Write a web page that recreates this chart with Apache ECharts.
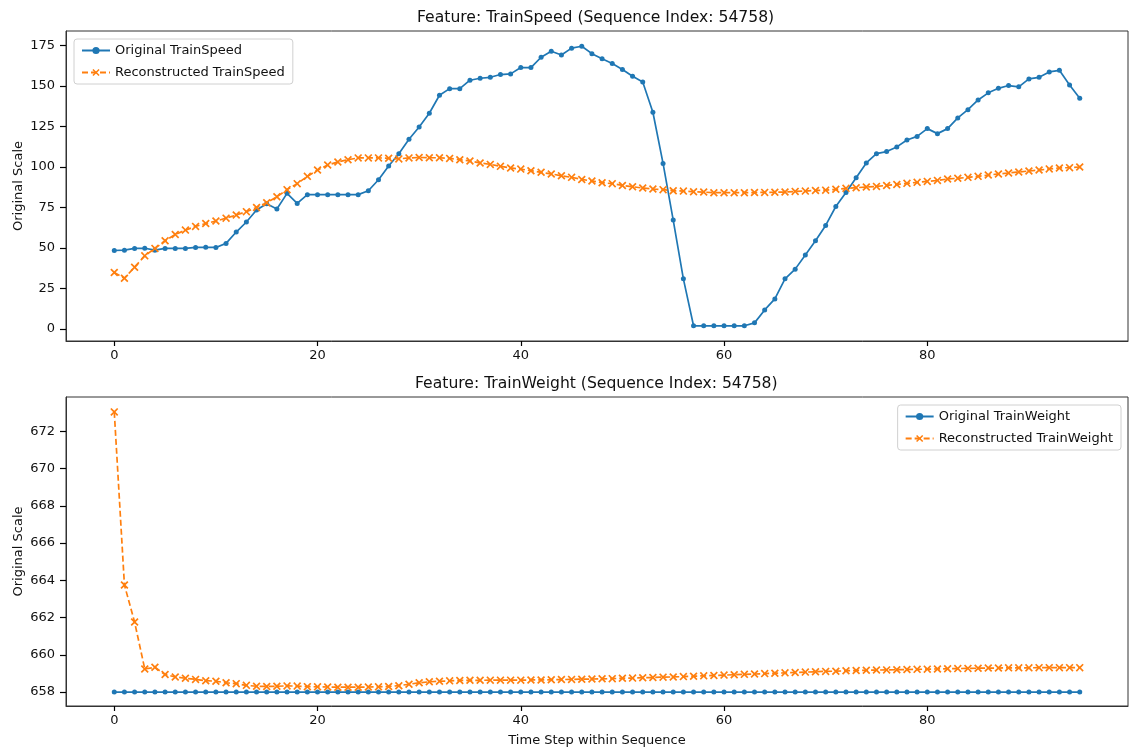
<!DOCTYPE html>
<html>
<head>
<meta charset="utf-8">
<script src="https://cdn.jsdelivr.net/npm/echarts@6/dist/echarts.min.js"></script>
<style>
html,body{margin:0;padding:0;background:#fff;}
#chart{width:1129px;height:752px;}
</style>
</head>
<body>
<div id="chart"></div>
<script>
// ---- data ----
const speedOriginal = [48.4,48.6,49.7,49.8,48.6,49.7,49.7,49.7,50.3,50.4,50.3,52.8,59.8,66.0,73.4,77.3,74.0,83.7,77.5,82.9,
  82.9,82.9,82.9,82.9,82.9,85.3,92.1,100.6,108.2,117.1,124.7,133.2,144.3,148.4,148.4,153.6,154.8,155.4,157.1,157.5,
  161.4,161.4,167.8,171.5,169.2,173.4,174.6,170.0,166.8,163.9,160.2,156.0,152.5,133.8,102.2,67.2,30.9,1.9,1.9,1.9,
  1.9,1.9,1.9,3.7,11.7,18.5,30.9,36.9,45.6,54.4,63.9,75.6,84.3,93.4,102.5,108.2,109.5,112.4,116.7,118.9,
  123.7,120.6,123.7,130.3,135.4,141.4,145.8,148.6,150.3,149.5,154.4,155.4,158.7,159.7,150.7,142.4];
const speedRecon = [34.8,31.3,38.1,45.1,49.7,54.4,58.3,61.0,63.3,65.1,66.6,68.4,70.3,72.4,75.0,77.9,81.6,86.0,89.7,94.2,
  98.1,101.2,103.1,104.5,105.6,105.6,105.6,105.4,105.0,105.6,105.9,105.7,105.7,105.3,104.5,103.7,102.5,101.6,100.4,99.4,
  98.7,97.7,96.7,95.7,94.6,93.6,92.3,91.3,90.3,89.7,88.6,87.8,87.0,86.4,86.0,85.3,85.1,84.7,84.5,84.1,
  84.1,84.1,84.1,84.2,84.3,84.4,84.5,84.9,85.1,85.5,85.7,86.2,86.8,87.2,87.6,88.0,88.6,89.2,89.9,90.5,
  91.1,91.7,92.6,93.0,93.6,94.2,95.0,95.7,96.3,96.9,97.5,98.1,98.8,99.4,99.6,100.0];
const weightOriginal = [658,658,658,658,658,658,658,658,658,658,658,658,658,658,658,658,658,658,658,658,
  658,658,658,658,658,658,658,658,658,658,658,658,658,658,658,658,658,658,658,658,
  658,658,658,658,658,658,658,658,658,658,658,658,658,658,658,658,658,658,658,658,
  658,658,658,658,658,658,658,658,658,658,658,658,658,658,658,658,658,658,658,658,
  658,658,658,658,658,658,658,658,658,658,658,658,658,658,658,658];
const weightRecon = [673.05,663.75,661.76,659.24,659.33,658.94,658.81,658.74,658.68,658.61,658.58,658.50,658.45,658.36,658.31,658.30,658.31,658.33,658.32,658.29,
  658.28,658.27,658.26,658.26,658.26,658.27,658.28,658.30,658.34,658.42,658.50,658.55,658.58,658.60,658.62,658.63,658.63,658.64,658.64,658.64,
  658.64,658.65,658.65,658.66,658.67,658.68,658.69,658.70,658.71,658.72,658.74,658.75,658.77,658.78,658.80,658.81,658.83,658.85,658.87,658.89,
  658.91,658.93,658.95,658.97,658.99,659.01,659.03,659.05,659.07,659.09,659.11,659.12,659.14,659.16,659.17,659.18,659.19,659.20,659.21,659.22,
  659.23,659.24,659.25,659.26,659.27,659.28,659.29,659.29,659.30,659.30,659.30,659.31,659.31,659.31,659.31,659.31];
const xTicks = [0,20,40,60,80];
const speedTicks = [0,25,50,75,100,125,150,175];
const weightTicks = [658,660,662,664,666,668,670,672];
const titles = ['Feature: TrainSpeed (Sequence Index: 54758)','Feature: TrainWeight (Sequence Index: 54758)'];
const names = ['Original TrainSpeed','Reconstructed TrainSpeed','Original TrainWeight','Reconstructed TrainWeight'];

const pairs = arr => arr.map((v,i)=>[i,v]);
const BLUE = '#1f77b4', ORANGE = '#ff7f0e';
const XSYM = 'path://M1.5,0 L5,3.5 L8.5,0 L10,1.5 L6.5,5 L10,8.5 L8.5,10 L5,6.5 L1.5,10 L0,8.5 L3.5,5 L0,1.5 Z';
const FONT = 'DejaVu Sans';
const FS = 13;
const txt = {fontFamily: FONT, color: '#111'};
const AX = '#333';

function xAxis(idx, withName){
  return {
    type:'value', gridIndex: idx, min:-4.75, max:99.75,
    axisLine:{show:true, onZero:false, lineStyle:{color:AX, width:1}}, splitLine:{show:false},
    axisTick:{show:true, length:5, inside:false, customValues:xTicks, lineStyle:{color:'#000', width:1.2}},
    axisLabel:{customValues:xTicks, margin:8, fontSize:FS, ...txt},
    name: withName ? 'Time Step within Sequence' : '',
    nameLocation:'middle', nameGap:28, nameMoveOverlap:false, nameTextStyle:{fontSize:FS, ...txt}
  };
}
function yAxis(idx, min, max, ticks){
  return {
    type:'value', gridIndex: idx, min:min, max:max,
    axisLine:{show:true, onZero:false, lineStyle:{color:AX, width:1}}, splitLine:{show:false},
    axisTick:{show:true, length:6, inside:false, customValues:ticks, lineStyle:{color:'#000', width:1.2}},
    axisLabel:{customValues:ticks, margin:11, fontSize:FS, ...txt},
    name:'Original Scale', nameLocation:'middle', nameGap:41, nameRotate:90, nameMoveOverlap:false,
    nameTextStyle:{fontSize:FS, ...txt}
  };
}
function origSeries(name, idx, data){
  return {name, type:'line', xAxisIndex:idx, yAxisIndex:idx, data:pairs(data),
    symbol:'circle', symbolSize:5, showSymbol:true, animation:false,
    lineStyle:{color:BLUE, width:1.7}, itemStyle:{color:BLUE}, z:2};
}
function reconSeries(name, idx, data){
  return {name, type:'line', xAxisIndex:idx, yAxisIndex:idx, data:pairs(data),
    symbol:XSYM, symbolSize:8, showSymbol:true, animation:false,
    lineStyle:{color:ORANGE, width:1.7, type:[6,3]}, itemStyle:{color:ORANGE}, z:3};
}
const legendBase = {
  orient:'vertical', backgroundColor:'rgba(255,255,255,0.85)', borderColor:'#d0d0d0', borderWidth:1,
  borderRadius:3, padding:[5,8,5,7], itemGap:9, itemWidth:28, itemHeight:9,
  textStyle:{fontSize:FS, ...txt}
};

const chart = echarts.init(document.getElementById('chart'), null, {renderer:'canvas'});
chart.setOption({
  backgroundColor:'#fff',
  animation:false,
  title:[
    {text:titles[0], left:417, top:10, padding:0, textStyle:{fontSize:15.6, fontWeight:'normal', ...txt}},
    {text:titles[1], left:415, top:376, padding:0, textStyle:{fontSize:15.6, fontWeight:'normal', ...txt}}
  ],
  grid:[
    {left:66, top:31, width:1062, height:310, show:true, borderColor:AX, borderWidth:1, backgroundColor:'transparent', outerBoundsMode:'none', containLabel:false},
    {left:66, top:397, width:1062, height:309, show:true, borderColor:AX, borderWidth:1, backgroundColor:'transparent', outerBoundsMode:'none', containLabel:false}
  ],
  xAxis:[xAxis(0,false), xAxis(1,true)],
  yAxis:[yAxis(0,-7.5,184,speedTicks), yAxis(1,657.25,673.85,weightTicks)],
  legend:[
    {...legendBase, data:[names[0],names[1]], left:74, top:39},
    {...legendBase, data:[names[2],names[3]], right:8, top:405}
  ],
  series:[
    origSeries(names[0],0,speedOriginal),
    reconSeries(names[1],0,speedRecon),
    origSeries(names[2],1,weightOriginal),
    reconSeries(names[3],1,weightRecon)
  ]
});
</script>
</body>
</html>
